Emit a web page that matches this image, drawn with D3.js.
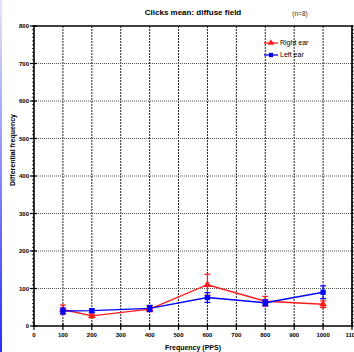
<!DOCTYPE html>
<html>
<head>
<meta charset="utf-8">
<script src="https://cdn.jsdelivr.net/npm/d3@7"></script>
<style>
  html, body { margin: 0; padding: 0; background: #fff; }
  svg { display: block; font-family: "Liberation Sans", Arial, sans-serif; }
</style>
</head>
<body>
<svg id="chart" width="354" height="352"></svg>
<script>
// Stimulus rates (pulses per second)
const frequencies = [100, 200, 400, 600, 800, 1000];

// Mean differential frequency and error per ear
const rightEarMean = [44, 27, 45, 110, 66, 58];
const rightEarErr  = [12, 5, 7, 28, 13, 9];
const leftEarMean  = [40, 41, 47, 76, 62, 90];
const leftEarErr   = [8, 5, 8, 13, 8, 17];

const xTicks = [0, 100, 200, 300, 400, 500, 600, 700, 800, 900, 1000, 1100];
const yTicks = [0, 100, 200, 300, 400, 500, 600, 700, 800];

const series = [
  { name: "Right ear", mean: rightEarMean, err: rightEarErr, color: "#ff1a1a", symbol: d3.symbolTriangle },
  { name: "Left ear",  mean: leftEarMean,  err: leftEarErr,  color: "#0000ff", symbol: d3.symbolSquare }
];

const svg = d3.select("#chart");
const pLeft = 34, pRight = 352, pTop = 26, pBottom = 326;

const x = d3.scaleLinear().domain([0, 1100]).range([pLeft, pRight]);
const y = d3.scaleLinear().domain([0, 800]).range([pBottom, pTop]);

// Window edge strip
const defs = svg.append("defs");
const grad = defs.append("linearGradient").attr("id", "edge").attr("x1", 0).attr("x2", 0).attr("y1", 0).attr("y2", 1);
grad.append("stop").attr("offset", "0%").attr("stop-color", "#e4e4f8");
grad.append("stop").attr("offset", "100%").attr("stop-color", "#2a2aff");
svg.append("rect").attr("x", 0).attr("y", 0).attr("width", 2).attr("height", 352).attr("fill", "url(#edge)");

// Grid
const grid = svg.append("g");
grid.selectAll("line.v").data(xTicks.filter(d => d > 0)).join("line")
  .attr("x1", d => x(d)).attr("x2", d => x(d)).attr("y1", pTop).attr("y2", pBottom)
  .attr("stroke", "#222").attr("stroke-width", 1).attr("stroke-dasharray", "2,1");
grid.selectAll("line.h").data(yTicks.filter(d => d > 0 && d < 800)).join("line")
  .attr("x1", pLeft).attr("x2", pRight).attr("y1", d => y(d)).attr("y2", d => y(d))
  .attr("stroke", "#555").attr("stroke-width", 1).attr("stroke-dasharray", "1,1");

// Top frame line
svg.append("line").attr("x1", pLeft).attr("x2", pRight).attr("y1", pTop).attr("y2", pTop)
  .attr("stroke", "#000").attr("stroke-width", 1.6);

// Y axis with minor ticks
const yMinor = d3.range(0, 801, 10);
const yAxis = svg.append("g");
yAxis.selectAll("line.minor").data(yMinor).join("line")
  .attr("x1", pLeft - 2).attr("x2", pLeft).attr("y1", d => y(d)).attr("y2", d => y(d))
  .attr("stroke", "#000").attr("stroke-width", 0.8);
yAxis.selectAll("line.major").data(yTicks).join("line")
  .attr("x1", pLeft - 4).attr("x2", pLeft + 3).attr("y1", d => y(d)).attr("y2", d => y(d))
  .attr("stroke", "#000").attr("stroke-width", 1.2);
yAxis.append("line").attr("x1", pLeft).attr("x2", pLeft).attr("y1", pTop - 1).attr("y2", pBottom + 1)
  .attr("stroke", "#000").attr("stroke-width", 1.6);
yAxis.selectAll("text").data(yTicks).join("text")
  .attr("x", pLeft - 5).attr("y", d => y(d)).attr("dy", "0.35em")
  .attr("text-anchor", "end").attr("font-size", 6).attr("font-weight", "bold").text(d => d);

// Right frame with minor ticks
const rAxis = svg.append("g");
rAxis.selectAll("line").data(yMinor).join("line")
  .attr("x1", pRight).attr("x2", pRight + 2).attr("y1", d => y(d)).attr("y2", d => y(d))
  .attr("stroke", "#000").attr("stroke-width", 0.8);
rAxis.append("line").attr("x1", pRight).attr("x2", pRight).attr("y1", pTop - 1).attr("y2", pBottom + 1)
  .attr("stroke", "#000").attr("stroke-width", 1.6);

// X axis
const xAxis = svg.append("g");
xAxis.selectAll("line.tick").data(xTicks).join("line")
  .attr("x1", d => x(d)).attr("x2", d => x(d)).attr("y1", pBottom - 3).attr("y2", pBottom + 4)
  .attr("stroke", "#000").attr("stroke-width", 1.2);
xAxis.append("line").attr("x1", pLeft).attr("x2", pRight).attr("y1", pBottom).attr("y2", pBottom)
  .attr("stroke", "#000").attr("stroke-width", 1.6);
xAxis.selectAll("text").data(xTicks).join("text")
  .attr("x", d => x(d)).attr("y", pBottom + 11)
  .attr("text-anchor", "middle").attr("font-size", 6).attr("font-weight", "bold").text(d => d);

// Series: error bars, lines, markers
const line = d3.line().x(d => x(d[0])).y(d => y(d[1]));
series.forEach(s => {
  const g = svg.append("g");
  const pts = frequencies.map((f, i) => [f, s.mean[i], s.err[i]]);
  g.selectAll("line.err").data(pts).join("line")
    .attr("x1", d => x(d[0])).attr("x2", d => x(d[0]))
    .attr("y1", d => y(d[1] - d[2])).attr("y2", d => y(d[1] + d[2]))
    .attr("stroke", s.color).attr("stroke-width", 1.2);
  [1, -1].forEach(sign => {
    g.selectAll(null).data(pts).join("line")
      .attr("x1", d => x(d[0]) - 3).attr("x2", d => x(d[0]) + 3)
      .attr("y1", d => y(d[1] + sign * d[2])).attr("y2", d => y(d[1] + sign * d[2]))
      .attr("stroke", s.color).attr("stroke-width", 1.2);
  });
  g.append("path").datum(pts).attr("d", line)
    .attr("fill", "none").attr("stroke", s.color).attr("stroke-width", 1.3);
  g.selectAll("path.pt").data(pts).join("path")
    .attr("transform", d => `translate(${x(d[0])},${y(d[1])})`)
    .attr("d", d3.symbol().type(s.symbol).size(s.symbol === d3.symbolSquare ? 28 : 26))
    .attr("fill", s.color);
});

// Legend
const legend = svg.append("g");
series.forEach((s, i) => {
  const ly = 43 + i * 12;
  legend.append("line").attr("x1", 264).attr("x2", 278).attr("y1", ly).attr("y2", ly)
    .attr("stroke", s.color).attr("stroke-width", 1.3);
  legend.append("path").attr("transform", `translate(271,${ly})`)
    .attr("d", d3.symbol().type(s.symbol).size(18)).attr("fill", s.color);
  legend.append("text").attr("x", 280).attr("y", ly).attr("dy", "0.35em")
    .attr("font-size", 7).text(s.name);
});

// Titles
svg.append("text").attr("x", 193).attr("y", 15).attr("text-anchor", "middle")
  .attr("font-size", 8).attr("font-weight", "bold").text("Clicks mean: diffuse field");
svg.append("text").attr("x", 300).attr("y", 16).attr("text-anchor", "middle")
  .attr("font-size", 6.5).attr("fill", "#333").text("(n=8)");
svg.append("text").attr("x", 193).attr("y", 350).attr("text-anchor", "middle")
  .attr("font-size", 7).attr("font-weight", "bold").text("Frequency (PPS)");
svg.append("text").attr("transform", "translate(15,150) rotate(-90)").attr("text-anchor", "middle")
  .attr("font-size", 7).attr("font-weight", "bold").text("Differential frequency");
</script>
</body>
</html>
